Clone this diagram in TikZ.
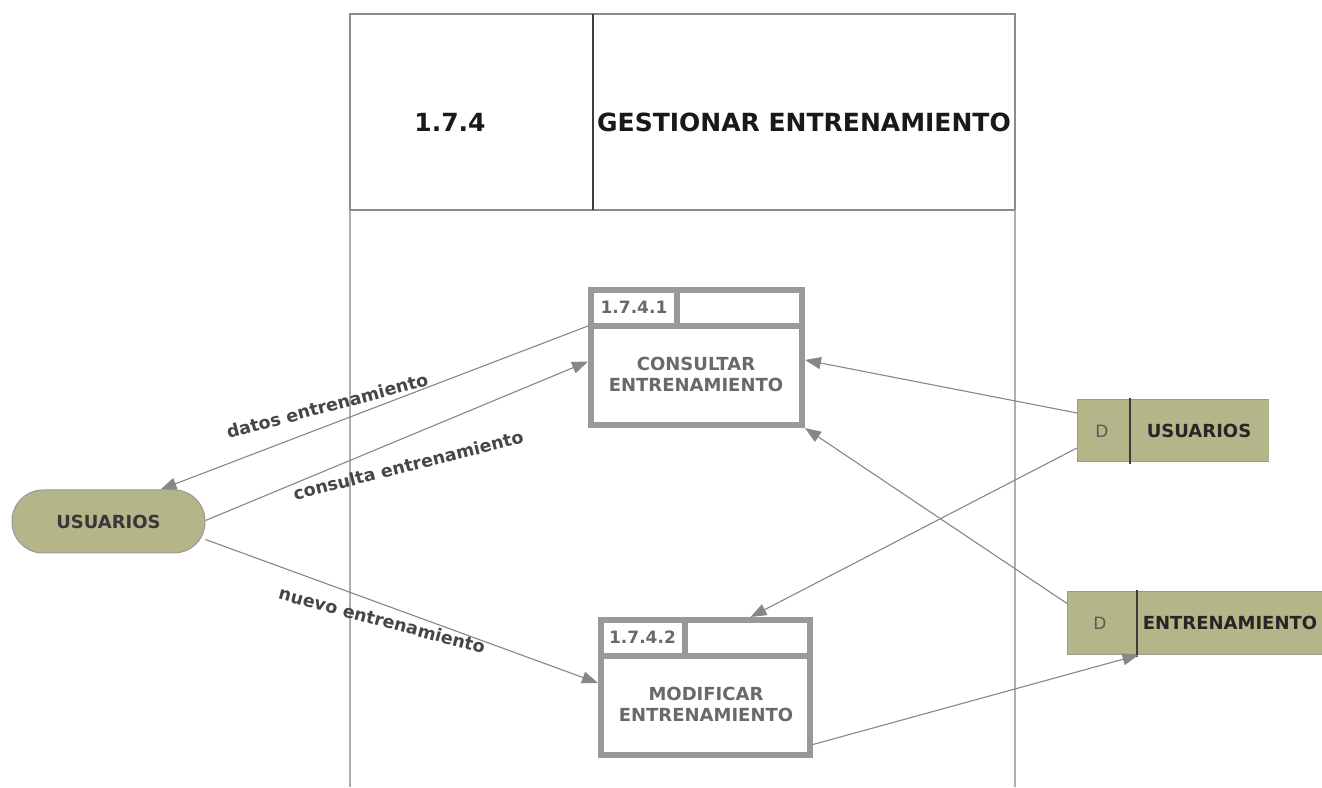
\documentclass[tikz,border=0pt]{standalone}
\usepackage{fontspec}
\setmainfont{DejaVu Sans}
\usetikzlibrary{arrows.meta}

\definecolor{storefill}{RGB}{181,181,138}
\definecolor{procgray}{RGB}{153,153,153}
\definecolor{proctext}{RGB}{105,105,105}
\definecolor{flowgray}{RGB}{135,135,135}
\definecolor{framegray}{RGB}{140,140,140}
\definecolor{bodygray}{RGB}{175,175,175}
\definecolor{darkline}{RGB}{60,60,60}
\definecolor{labeltext}{RGB}{70,70,70}

\begin{document}
\begin{tikzpicture}[x=1pt,y=1pt,
  hdr/.style={inner sep=0pt, text=black!90, font=\fontsize{25}{30}\selectfont\bfseries},
  proc/.style={draw=procgray, line width=6pt, minimum height=135pt, inner sep=0pt},
  procline/.style={draw=procgray, line width=6pt},
  pid/.style={inner sep=0pt, text=proctext, font=\fontsize{17}{20}\selectfont\bfseries},
  ptext/.style={inner sep=0pt, align=center, text=proctext, font=\fontsize{18}{21}\selectfont\bfseries},
  store/.style={fill=storefill, inner sep=0pt, outer sep=0pt},
  storeedge/.style={draw=procgray, line width=1pt},
  storediv/.style={draw=darkline, line width=1.6pt},
  storeD/.style={inner sep=0pt, text=black!65, font=\fontsize{17}{20}\selectfont},
  storename/.style={inner sep=0pt, text=black!85, font=\fontsize{18}{22}\selectfont\bfseries},
  entity/.style={fill=storefill, draw=procgray, line width=1pt, rounded corners=31pt,
    inner sep=0pt, text=black!78, font=\fontsize{18}{22}\selectfont\bfseries},
  flow/.style={draw=flowgray, line width=1.1pt, -{Triangle[length=16pt,width=12pt]}},
  flowlabel/.style={inner sep=0pt, text=labeltext, font=\fontsize{17.5}{22}\selectfont\bfseries}]

\clip (0,0) rectangle (1322,787);
\fill[white] (0,0) rectangle (1322,787);

% process frame with its header
\draw[bodygray, line width=1.5pt] (350,0) -- (350,577);
\draw[bodygray, line width=1.5pt] (1015,0) -- (1015,577);
\draw[framegray, line width=1.3pt] (350,577) -- (350,773) -- (1015,773) -- (1015,577);
\draw[framegray, line width=2pt] (350,577) -- (1015,577);
\draw[darkline, line width=1.3pt] (593,577) -- (593,773);
\node[hdr] (hnum) at (450,665) {1.7.4};
\node[hdr] (htitle) at (804,665) {GESTIONAR ENTRENAMIENTO};

% process 1.7.4.1
\node[proc, minimum width=211pt] (p1) at (696.5,429.5) {};
\draw[procline] ([yshift=-39pt]p1.north west) -- ([yshift=-39pt]p1.north east);
\draw[procline] ([xshift=-19.5pt]p1.north) -- ([xshift=-19.5pt,yshift=-39pt]p1.north);
\node[pid] (p1id) at (634,480) {1.7.4.1};
\node[ptext] (p1n) at (696,413) {CONSULTAR\\ENTRENAMIENTO};

% process 1.7.4.2
\node[proc, minimum width=209pt] (p2) at (705.5,99.5) {};
\draw[procline] ([yshift=-39pt]p2.north west) -- ([yshift=-39pt]p2.north east);
\draw[procline] ([xshift=-20.5pt]p2.north) -- ([xshift=-20.5pt,yshift=-39pt]p2.north);
\node[pid] (p2id) at (642.5,150) {1.7.4.2};
\node[ptext] (p2n) at (706,82.5) {MODIFICAR\\ENTRENAMIENTO};

% data store USUARIOS
\node[store, minimum width=192pt, minimum height=62pt] (ds1) at (1173,356) {};
\draw[storeedge] (ds1.north east) -- (ds1.north west) -- (ds1.south west) -- (ds1.south east);
\draw[storediv] (1130,389) -- (1130,323);
\node[storeD] (ds1d) at (1102,356) {D};
\node[storename] (ds1n) at (1199,356) {USUARIOS};

% data store ENTRENAMIENTO
\node[store, minimum width=257pt, minimum height=63pt] (ds2) at (1195.5,163.5) {};
\draw[storeedge] (ds2.north east) -- (ds2.north west) -- (ds2.south west) -- (ds2.south east);
\draw[storediv] (1137,197) -- (1137,130);
\node[storeD] (ds2d) at (1100,164) {D};
\node[storename] (ds2n) at (1230,164) {ENTRENAMIENTO};

% external entity
\node[entity, minimum width=193pt, minimum height=63pt] (ent) at (108.5,265.5) {USUARIOS};

% data flows
\draw[flow] ([yshift=31.5pt]p1.west) -- ([xshift=52pt]ent.north)
  node[flowlabel, pos=0.61, yshift=20pt, rotate=15] {datos entrenamiento};
\draw[flow] ([yshift=1pt]ent.east) -- ([yshift=-4pt]p1.west)
  node[flowlabel, pos=0.53, yshift=-29pt, rotate=14] {consulta entrenamiento};
\draw[flow] ([yshift=-18pt]ent.east) -- ([yshift=4.5pt]p2.west)
  node[flowlabel, pos=0.45, yshift=-16pt, rotate=-15] {nuevo entrenamiento};
\draw[flow] ([yshift=18pt]ds1.west) -- ([yshift=-2.5pt]p1.east);
\draw[flow] ([yshift=-17pt]ds1.west) -- ([xshift=45pt]p2.north);
\draw[flow] ([yshift=20pt]ds2.west) -- (p1.south east);
\draw[flow] ([yshift=-57pt]p2.east) -- ([xshift=-57pt]ds2.south);
\end{tikzpicture}
\end{document}
